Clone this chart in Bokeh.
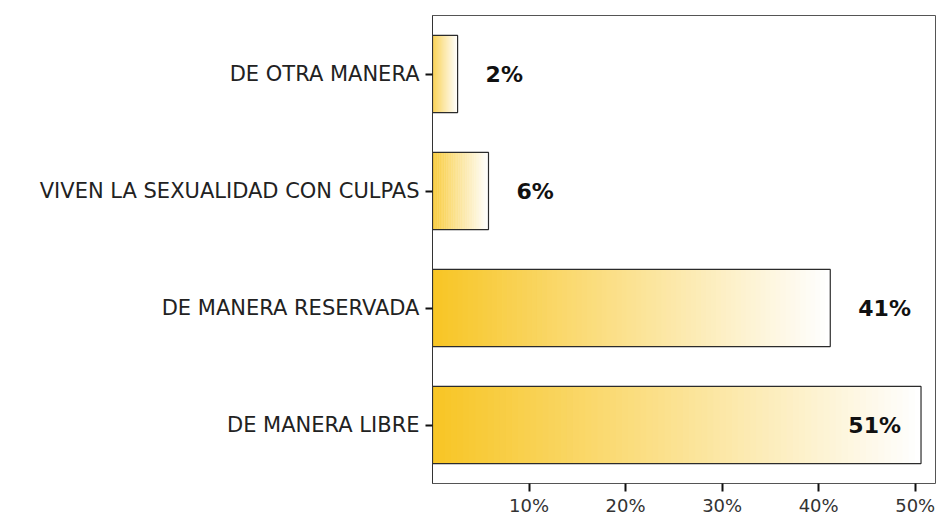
from bokeh.plotting import figure
from bokeh.models import FactorRange, Range1d, FixedTicker, ColumnDataSource, CustomJSTickFormatter
from bokeh.core.properties import value
from bokeh.embed import file_html
from bokeh.resources import INLINE

categories = ["DE OTRA MANERA", "VIVEN LA SEXUALIDAD CON CULPAS", "DE MANERA RESERVADA", "DE MANERA LIBRE"]
values = [2.6, 5.8, 41.2, 50.6]
labels = ["2%", "6%", "41%", "51%"]
x_ticks = [10, 20, 30, 40, 50]

FONT = "DejaVu Sans"
GOLD = (248, 198, 38)
N = 80

p = figure(width=937, height=518, output_backend="svg", toolbar_location=None,
           y_range=FactorRange(factors=list(reversed(categories)), range_padding=0),
           x_range=Range1d(0, 52.1),
           min_border_left=432, min_border_top=15, min_border_right=2, min_border_bottom=0)

# gradient fill: thin slices from 0 to each value
ys, lefts, rights, colors = [], [], [], []
for cat, v in zip(categories, values):
    for i in range(N):
        t = i / (N - 1)
        ys.append(cat)
        lefts.append(v * i / N)
        rights.append(v * (i + 1) / N + v * 0.002)
        r = int(GOLD[0] + (255 - GOLD[0]) * t)
        g = int(GOLD[1] + (255 - GOLD[1]) * t)
        b = int(GOLD[2] + (255 - GOLD[2]) * t)
        colors.append("#%02x%02x%02x" % (r, g, b))
p.hbar(y=ys, left=lefts, right=rights, height=0.66, fill_color=colors, line_color=None)
p.hbar(y=categories, left=0, right=values, height=0.66, fill_color=None, line_color="#2b2b2b", line_width=1.2)

# value labels
out_src = ColumnDataSource(dict(y=[c for c, v in zip(categories, values) if v < 45],
                                x=[v for v in values if v < 45],
                                t=[l for l, v in zip(labels, values) if v < 45]))
in_src = ColumnDataSource(dict(y=[c for c, v in zip(categories, values) if v >= 45],
                               x=[v for v in values if v >= 45],
                               t=[l for l, v in zip(labels, values) if v >= 45]))
p.text(x="x", y="y", text="t", source=out_src, x_offset=28, text_align="left", text_baseline="middle",
       text_font=value(FONT), text_font_size="22px", text_font_style="bold", text_color="#111111")
p.text(x="x", y="y", text="t", source=in_src, x_offset=-20, text_align="right", text_baseline="middle",
       text_font=value(FONT), text_font_size="22px", text_font_style="bold", text_color="#111111")

p.grid.visible = False
p.outline_line_color = "#555555"
p.outline_line_width = 1

p.xaxis.ticker = FixedTicker(ticks=x_ticks)
p.xaxis.formatter = CustomJSTickFormatter(code="return tick + '%';")
p.xaxis.axis_line_color = None
p.xaxis.major_tick_out = 8
p.xaxis.major_tick_in = 0
p.xaxis.minor_tick_line_color = None
p.xaxis.major_tick_line_width = 2
p.xaxis.major_tick_line_color = "#111111"
p.xaxis.major_label_standoff = 3
p.xaxis.major_label_text_font = FONT
p.xaxis.major_label_text_font_size = "18px"
p.xaxis.major_label_text_color = "#333333"

p.yaxis.axis_line_color = "#333333"
p.yaxis.major_tick_out = 7
p.yaxis.major_tick_in = 0
p.yaxis.major_tick_line_width = 2
p.yaxis.major_tick_line_color = "#111111"
p.yaxis.major_label_standoff = 6
p.yaxis.major_label_text_font = FONT
p.yaxis.major_label_text_font_size = "21px"
p.yaxis.major_label_text_color = "#222222"

open("out.html", "w").write(file_html(p, INLINE))
